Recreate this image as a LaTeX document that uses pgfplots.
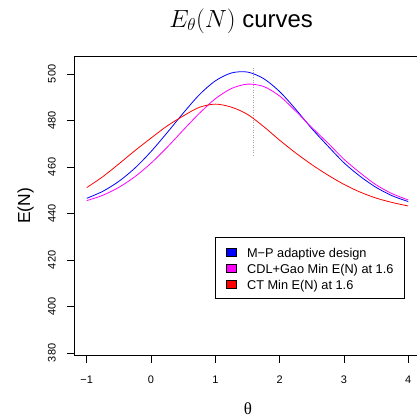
\documentclass[border=0pt]{standalone}
\usepackage{fontspec}
\setmainfont{Liberation Sans}
\newfontfamily\symfont{Liberation Serif}
\usepackage{pgfplots}
\pgfplotsset{compat=1.18}
\definecolor{rblue}{RGB}{0,0,255}
\definecolor{rmagenta}{RGB}{255,0,255}
\definecolor{rred}{RGB}{255,0,0}

\pgfplotstableread{
t     mp     cdl    ct
-1.00 446.5  445.5  451.1
-0.75 449.5  447.8  455.8
-0.50 453.8  451.2  461.3
-0.25 459.5  455.8  467.0
0.00  466.6  461.6  472.4
0.25  474.7  468.4  477.6
0.50  483.1  475.8  481.9
0.75  491.0  483.0  485.6
1.00  497.0  489.3  487.0
1.25  500.4  493.7  485.7
1.50  500.8  495.6  482.6
1.75  498.0  494.6  477.4
2.00  492.4  490.5  471.5
2.25  484.8  484.0  466.0
2.50  476.5  477.0  461.0
2.75  469.0  470.3  456.5
3.00  461.8  463.3  452.5
3.25  456.0  457.5  449.2
3.50  451.2  452.3  446.6
3.75  447.6  448.5  444.7
4.00  445.1  445.8  443.2
}\curves

\begin{document}
\begin{tikzpicture}
\useasboundingbox (-74bp,-62.3bp) rectangle (343bp,355.7bp);
\begin{axis}[
    scale only axis,
    width=343bp, height=299.7bp,
    xmin=-1.198, xmax=4.137,
    ymin=378.8, ymax=507.7,
    axis x line*=box, axis y line*=left,
    axis line style={line width=0.8bp},
    xtick={-1,0,1,2,3,4},
    xticklabels={−1,0,1,2,3,4},
    ytick={380,400,420,440,460,480,500},
    yticklabels={380,400,420,440,460,480,500},
    xtick pos=left, ytick pos=left,
    tick align=outside,
    major tick length=7bp,
    tick style={line width=0.8bp, black},
    xticklabel style={font=\fontsize{11}{13}\selectfont, anchor=north, inner sep=0pt, yshift=-13bp},
    yticklabel style={font=\fontsize{11}{13}\selectfont, rotate=90, anchor=south, inner sep=0pt, yshift=11bp},
    title={$E_\theta(N)$ curves},
    title style={font=\fontsize{24}{28}\selectfont, at={(axis description cs:0.487,1)}, anchor=center, yshift=29bp},
    xlabel={{\symfont θ}},
    xlabel style={font=\fontsize{17}{20}\selectfont, at={(axis description cs:0.507,0)}, anchor=center, yshift=-53.3bp},
    ylabel={E(N)},
    ylabel style={font=\fontsize{17.5}{20}\selectfont, at={(axis description cs:0,0.5)}, anchor=center, yshift=48.3bp},
    legend image code/.code={\draw[#1, draw=black, line width=0.5bp] (0bp,-4bp) rectangle (9.5bp,4bp);},
    legend style={at={(axis cs:0.995,429.9)}, anchor=north west, draw=black, line width=0.8bp,
        inner xsep=11bp, inner ysep=8bp, row sep=3bp,
        font=\fontsize{12.8}{15}\selectfont,
        nodes={inner sep=0pt, text height=12bp, text depth=1bp},
        /tikz/column sep=10.7bp},
    legend cell align=left,
]
\addplot[rblue, line width=0.8bp, smooth, forget plot] table[x=t, y=mp] {\curves};
\addplot[rmagenta, line width=0.8bp, smooth, forget plot] table[x=t, y=cdl] {\curves};
\addplot[rred, line width=0.8bp, smooth, forget plot] table[x=t, y=ct] {\curves};
\addplot[gray!70, line width=0.8bp, dash pattern=on 1bp off 1.5bp, forget plot] coordinates {(1.6,464.7) (1.6,502.7)};

\addlegendimage{fill=rblue}
\addlegendentry{M−P adaptive design}
\addlegendimage{fill=rmagenta}
\addlegendentry{CDL+Gao Min E(N) at 1.6\hspace{6bp}}
\addlegendimage{fill=rred}
\addlegendentry{CT Min E(N) at 1.6}
\end{axis}
\end{tikzpicture}
\end{document}
